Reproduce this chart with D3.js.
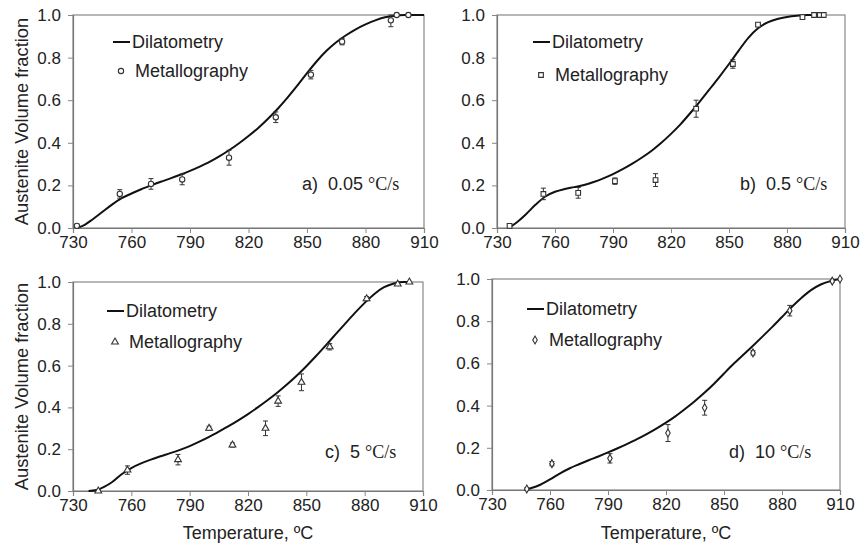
<!DOCTYPE html>
<html>
<head>
<meta charset="utf-8">
<script src="https://cdn.jsdelivr.net/npm/d3@7"></script>
<style>
  body { margin: 0; background: #fff; }
  text { font-family: "Liberation Sans", Arial, sans-serif; fill: #222; }
</style>
</head>
<body>
<div id="chart"></div>
<script>
// dilatometry curves (temperature, fraction)
const curveA_T = [732, 736, 740, 745, 750, 755, 760, 765, 770, 775, 780, 785, 790, 795, 800, 805, 810, 815, 820, 825, 830, 835, 840, 845, 850, 855, 860, 865, 870, 875, 880, 885, 890, 895, 900, 910];
const curveA_V = [0, 0.015, 0.04, 0.075, 0.11, 0.14, 0.162, 0.182, 0.2, 0.217, 0.233, 0.25, 0.268, 0.288, 0.31, 0.336, 0.365, 0.397, 0.432, 0.47, 0.513, 0.56, 0.612, 0.668, 0.727, 0.783, 0.832, 0.872, 0.905, 0.933, 0.956, 0.975, 0.989, 0.997, 1.0, 1.0];

const curveB_T = [736, 740, 745, 750, 755, 760, 765, 770, 775, 780, 785, 790, 795, 800, 805, 810, 815, 820, 825, 830, 835, 840, 845, 850, 855, 860, 865, 870, 875, 880, 885, 890, 898];
const curveB_V = [0, 0.025, 0.065, 0.11, 0.148, 0.17, 0.183, 0.192, 0.202, 0.216, 0.233, 0.253, 0.276, 0.302, 0.331, 0.363, 0.4, 0.442, 0.488, 0.54, 0.595, 0.652, 0.71, 0.77, 0.833, 0.893, 0.938, 0.965, 0.981, 0.991, 0.997, 1.0, 1.0];

const curveC_T = [738, 742, 746, 750, 755, 760, 765, 770, 775, 780, 785, 790, 795, 800, 805, 810, 815, 820, 825, 830, 835, 840, 845, 850, 855, 860, 865, 870, 875, 880, 885, 890, 895, 900, 903];
const curveC_V = [0, 0.005, 0.02, 0.042, 0.08, 0.11, 0.132, 0.15, 0.166, 0.181, 0.197, 0.215, 0.236, 0.259, 0.284, 0.31, 0.338, 0.368, 0.4, 0.434, 0.47, 0.509, 0.551, 0.597, 0.646, 0.697, 0.749, 0.801, 0.852, 0.9, 0.943, 0.975, 0.993, 1.0, 1.0];

const curveD_T = [747, 750, 755, 760, 765, 770, 775, 780, 785, 790, 795, 800, 805, 810, 815, 820, 825, 830, 835, 840, 845, 850, 855, 860, 865, 870, 875, 880, 885, 890, 895, 900, 905, 910];
const curveD_V = [0, 0.008, 0.025, 0.05, 0.078, 0.102, 0.122, 0.141, 0.159, 0.178, 0.198, 0.219, 0.241, 0.265, 0.291, 0.319, 0.35, 0.385, 0.422, 0.462, 0.505, 0.552, 0.598, 0.641, 0.684, 0.728, 0.773, 0.82, 0.867, 0.91, 0.947, 0.974, 0.99, 1.0];

// metallography points with error
const pointsA_T = [732, 754, 770, 786, 810, 834, 852, 868, 893, 896, 902];
const pointsA_V = [0.01, 0.16, 0.207, 0.228, 0.33, 0.52, 0.72, 0.875, 0.975, 1.0, 1.0];
const pointsA_E = [0.008, 0.02, 0.025, 0.025, 0.035, 0.025, 0.02, 0.015, 0.03, 0, 0];

const pointsB_T = [736.5, 754, 772, 791, 812, 833, 852, 865, 888, 894, 897, 899];
const pointsB_V = [0.01, 0.16, 0.165, 0.22, 0.225, 0.56, 0.77, 0.955, 0.99, 1.0, 1.0, 1.0];
const pointsB_E = [0.01, 0.027, 0.025, 0.015, 0.03, 0.04, 0.02, 0.005, 0.005, 0, 0, 0];

const pointsC_T = [743, 758, 784, 800, 812, 829, 835.5, 847.5, 862, 881, 897, 903];
const pointsC_V = [0.0, 0.1, 0.15, 0.3, 0.22, 0.3, 0.43, 0.52, 0.69, 0.92, 0.99, 1.0];
const pointsC_E = [0.005, 0.02, 0.025, 0.01, 0.01, 0.035, 0.025, 0.04, 0.015, 0.01, 0.005, 0];

const pointsD_T = [748, 761, 791, 821, 840, 865, 884, 906, 910];
const pointsD_V = [0.005, 0.125, 0.15, 0.27, 0.39, 0.65, 0.85, 0.99, 1.0];
const pointsD_E = [0.005, 0.01, 0.022, 0.04, 0.035, 0.01, 0.025, 0.005, 0];

const xTicks = [730, 760, 790, 820, 850, 880, 910];
const yTicks = [0, 0.2, 0.4, 0.6, 0.8, 1.0];
const rates = ["0.05", "0.5", "5", "10"];
const letters = ["a)", "b)", "c)", "d)"];

const width = 863, height = 555;
const svg = d3.select("#chart").append("svg").attr("width", width).attr("height", height);

const zip = (a, b, c) => a.map((t, i) => ({t: t, v: b[i], e: c ? c[i] : 0}));

const panels = [
  {box: [73, 424, 15, 228], curve: zip(curveA_T, curveA_V), pts: zip(pointsA_T, pointsA_V, pointsA_E), sym: d3.symbolCircle, size: 22, ylab: true, xlab: false, leg: [42, 113, 22, 71], note: [302, 190]},
  {box: [497, 845, 15, 228], curve: zip(curveB_T, curveB_V), pts: zip(pointsB_T, pointsB_V, pointsB_E), sym: d3.symbolSquare, size: 22, ylab: false, xlab: false, leg: [42, 533, 22, 75], note: [740, 190]},
  {box: [73, 423, 282, 491], curve: zip(curveC_T, curveC_V), pts: zip(pointsC_T, pointsC_V, pointsC_E), sym: d3.symbolTriangle, size: 20, ylab: true, xlab: true, leg: [311, 107, 22, 342], note: [325, 458]},
  {box: [492, 840, 279, 490], curve: zip(curveD_T, curveD_V), pts: zip(pointsD_T, pointsD_V, pointsD_E), sym: d3.symbolDiamond, size: 18, ylab: false, xlab: true, leg: [309, 527, 22, 340], note: [729, 458]}
];

panels.forEach((p, k) => {
  const [x0, x1, y0, y1] = p.box;
  const x = d3.scaleLinear().domain([730, 910]).range([x0, x1]);
  const y = d3.scaleLinear().domain([0, 1]).range([y1, y0]);
  const g = svg.append("g");

  // frame
  g.append("rect").attr("x", x0).attr("y", y0).attr("width", x1 - x0).attr("height", y1 - y0)
    .attr("fill", "none").attr("stroke", "#888").attr("stroke-width", 1.2);

  const xa = g.append("g").attr("transform", `translate(0,${y1})`)
    .call(d3.axisBottom(x).tickValues(xTicks).tickSize(5).tickPadding(3).tickFormat(d3.format("d")));
  const ya = g.append("g").attr("transform", `translate(${x0},0)`)
    .call(d3.axisLeft(y).tickValues(yTicks).tickSize(5).tickPadding(7).tickFormat(d3.format(".1f")));
  [xa, ya].forEach(a => {
    a.select(".domain").attr("stroke", "#777").attr("stroke-width", 1.2);
    a.selectAll(".tick line").attr("stroke", "#888");
    a.selectAll(".tick text").attr("font-size", 17).attr("fill", "#222")
      .attr("font-family", "Liberation Sans, Arial, sans-serif");
  });

  // dilatometry line
  g.append("path").datum(p.curve)
    .attr("fill", "none").attr("stroke", "#111").attr("stroke-width", 2)
    .attr("d", d3.line().x(d => x(d.t)).y(d => y(d.v)).curve(d3.curveMonotoneX));

  // error bars
  const eb = g.append("g").attr("stroke", "#333").attr("stroke-width", 1);
  p.pts.filter(d => d.e > 0).forEach(d => {
    const cx = x(d.t), ya0 = y(Math.min(1, d.v + d.e)), yb0 = y(Math.max(0, d.v - d.e));
    eb.append("line").attr("x1", cx).attr("x2", cx).attr("y1", ya0).attr("y2", yb0);
    eb.append("line").attr("x1", cx - 2.5).attr("x2", cx + 2.5).attr("y1", ya0).attr("y2", ya0);
    eb.append("line").attr("x1", cx - 2.5).attr("x2", cx + 2.5).attr("y1", yb0).attr("y2", yb0);
  });

  // markers
  const sym = d3.symbol().type(p.sym).size(p.size);
  g.selectAll(".pt").data(p.pts).enter().append("path")
    .attr("transform", d => `translate(${x(d.t)},${y(d.v)})`)
    .attr("d", sym).attr("fill", "#fff").attr("stroke", "#333").attr("stroke-width", 1.1);

  // legend
  const [ly1, lx, lw, ly2] = p.leg;
  g.append("line").attr("x1", lx).attr("x2", lx + 17).attr("y1", ly1).attr("y2", ly1)
    .attr("stroke", "#111").attr("stroke-width", 2);
  g.append("text").attr("x", lx + 19).attr("y", ly1).attr("dy", "0.35em")
    .attr("font-size", 18).text("Dilatometry");
  g.append("path").attr("transform", `translate(${lx + 8},${ly2})`).attr("d", sym)
    .attr("fill", "#fff").attr("stroke", "#333").attr("stroke-width", 1.1);
  g.append("text").attr("x", lx + 22).attr("y", ly2).attr("dy", "0.35em")
    .attr("font-size", 18).text("Metallography");

  // rate annotation
  const note = g.append("text").attr("x", p.note[0]).attr("y", p.note[1])
    .attr("font-size", 18).style("white-space", "pre");
  note.append("tspan").text(letters[k] + "  " + rates[k] + " ");
  note.append("tspan").attr("font-family", "Liberation Serif, Times New Roman, serif")
    .attr("font-size", 18).text("°C/s");

  if (p.ylab) {
    g.append("text").attr("transform", `translate(22,${(y0 + y1) / 2}) rotate(-90)`)
      .attr("text-anchor", "middle").attr("dy", "0.35em").attr("font-size", 18.3)
      .text("Austenite Volume fraction");
  }
  if (p.xlab) {
    g.append("text").attr("x", (x0 + x1) / 2).attr("y", 533).attr("dy", "0.35em")
      .attr("text-anchor", "middle").attr("font-size", 18).text("Temperature, ºC");
  }
});
</script>
</body>
</html>
